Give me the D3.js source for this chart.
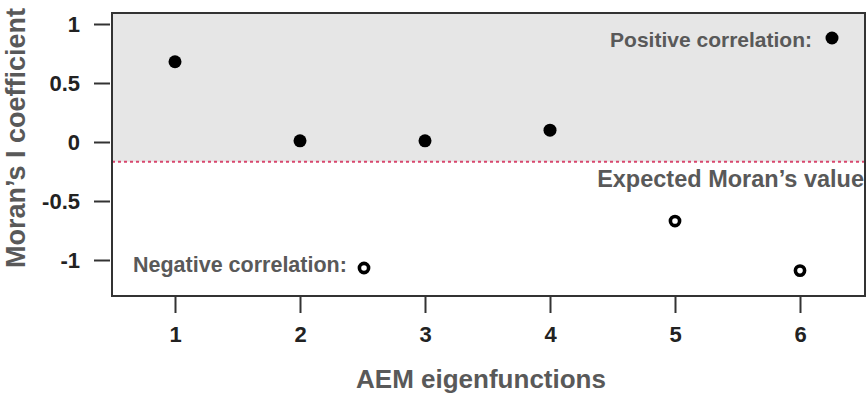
<!DOCTYPE html>
<html>
<head>
<meta charset="utf-8">
<script src="https://cdn.jsdelivr.net/npm/d3@7"></script>
<style>
  html, body { margin: 0; padding: 0; background: #fff; }
  svg { display: block; }
  text { font-family: "Liberation Sans", Arial, Helvetica, sans-serif; font-weight: bold; }
</style>
</head>
<body>
<svg id="chart" width="867" height="397"></svg>
<script>
// AEM eigenfunctions and their Moran's I coefficients
const eigenfunctions = [1, 2, 3, 4, 5, 6];
const moranI = [0.68, 0.01, 0.01, 0.10, -0.67, -1.09];
const xTicks = [1, 2, 3, 4, 5, 6];
const yTicks = [-1, -0.5, 0, 0.5, 1];
const yTickLabels = ["-1", "-0.5", "0", "0.5", "1"];
const expectedI = -1 / 6;   // expected Moran's I = -1/(n-1)

const svg = d3.select("#chart");
const box = { left: 112, top: 13, right: 865, bottom: 296 };

const x = d3.scaleLinear().domain([1, 6]).range([175, 800]);
const y = d3.scaleLinear().domain([-1, 1]).range([260, 24]);

// shaded region above the expected value
svg.append("rect")
  .attr("x", box.left).attr("y", box.top)
  .attr("width", box.right - box.left)
  .attr("height", y(expectedI) - box.top)
  .attr("fill", "#e6e6e6");

// expected value line
svg.append("line")
  .attr("x1", box.left).attr("x2", box.right)
  .attr("y1", y(expectedI)).attr("y2", y(expectedI))
  .attr("stroke", "#d8476e").attr("stroke-width", 2)
  .attr("stroke-dasharray", "3,3");

// axes
const yAxis = d3.axisLeft(y).tickValues(yTicks)
  .tickFormat((d, i) => yTickLabels[i]).tickSize(16).tickPadding(14);
const gy = svg.append("g").attr("transform", `translate(${box.left - 2},0)`).call(yAxis);
gy.select(".domain").remove();
gy.selectAll(".tick line").attr("stroke", "#333").attr("stroke-width", 2);
gy.selectAll(".tick text").attr("fill", "#222").style("font-size", "22px");

const xAxis = d3.axisBottom(x).tickValues(xTicks).tickFormat(d3.format("d"))
  .tickSize(17).tickPadding(13);
const gx = svg.append("g").attr("transform", `translate(0,${box.bottom})`).call(xAxis);
gx.select(".domain").remove();
gx.selectAll(".tick line").attr("stroke", "#333").attr("stroke-width", 2);
gx.selectAll(".tick text").attr("fill", "#222").style("font-size", "22px");

// plot frame
svg.append("rect")
  .attr("x", box.left).attr("y", box.top)
  .attr("width", box.right - box.left).attr("height", box.bottom - box.top)
  .attr("fill", "none").attr("stroke", "#333").attr("stroke-width", 2);

// points: filled for positive, open for negative correlation
const pts = eigenfunctions.map((e, i) => ({ e, v: moranI[i] }));
svg.selectAll("circle.pt").data(pts).join("circle")
  .attr("class", "pt")
  .attr("cx", d => x(d.e)).attr("cy", d => y(d.v))
  .attr("r", d => d.v > expectedI ? 6.5 : 4.6)
  .attr("fill", d => d.v > expectedI ? "#000" : "#fff")
  .attr("stroke", "#000")
  .attr("stroke-width", d => d.v > expectedI ? 0 : 3.6);

// legend annotations
const labelColor = "#595959";
svg.append("text").attr("x", 812).attr("y", 47)
  .attr("text-anchor", "end").attr("fill", labelColor)
  .style("font-size", "21px").text("Positive correlation:");
svg.append("circle").attr("cx", 832).attr("cy", 38).attr("r", 6.5).attr("fill", "#000");

svg.append("text").attr("x", 133).attr("y", 272)
  .attr("fill", labelColor)
  .style("font-size", "21.5px").text("Negative correlation:");
svg.append("circle").attr("cx", 364).attr("cy", 268).attr("r", 4.6)
  .attr("fill", "#fff").attr("stroke", "#000").attr("stroke-width", 3.6);

svg.append("text").attr("x", 864).attr("y", 187)
  .attr("text-anchor", "end").attr("fill", labelColor)
  .style("font-size", "23.5px").text("Expected Moran\u2019s value");

// axis titles
svg.append("text").attr("x", 481).attr("y", 388)
  .attr("text-anchor", "middle").attr("fill", labelColor)
  .style("font-size", "26px").text("AEM eigenfunctions");

svg.append("text")
  .attr("transform", "translate(25,138) rotate(-90)")
  .attr("text-anchor", "middle").attr("fill", labelColor)
  .style("font-size", "27px").text("Moran\u2019s I coefficient");
</script>
</body>
</html>
